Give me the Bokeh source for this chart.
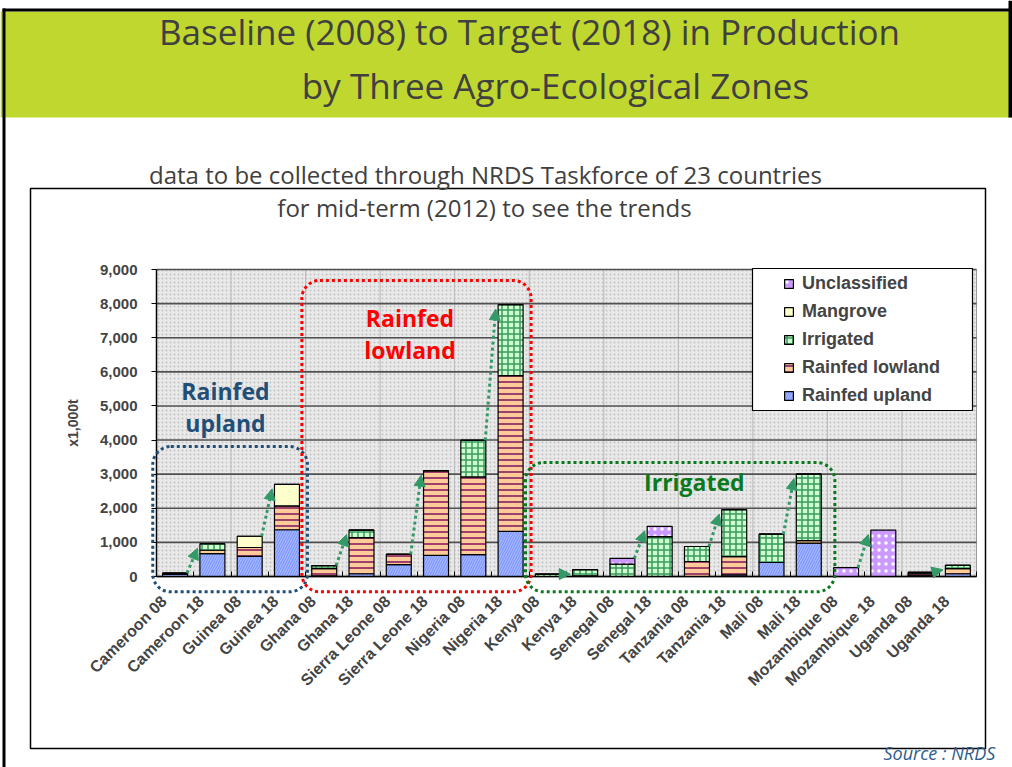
import math
from bokeh.plotting import figure
from bokeh.models import (ColumnDataSource, FixedTicker, Legend, LegendItem, Label,
                          BoxAnnotation, Arrow, NormalHead, NumeralTickFormatter, Range1d)
from bokeh.embed import file_html
from bokeh.resources import INLINE

# ---------------- data (x1,000 t) ----------------
categories = ["Cameroon 08", "Cameroon 18", "Guinea 08", "Guinea 18", "Ghana 08", "Ghana 18",
              "Sierra Leone 08", "Sierra Leone 18", "Nigeria 08", "Nigeria 18",
              "Kenya 08", "Kenya 18", "Senegal 08", "Senegal 18", "Tanzania 08", "Tanzania 18",
              "Mali 08", "Mali 18", "Mozambique 08", "Mozambique 18", "Uganda 08", "Uganda 18"]
rainfed_upland = [60, 670, 590, 1370, 20, 80, 350, 620, 640, 1320,
                  0, 20, 0, 0, 0, 50, 410, 980, 0, 0, 40, 80]
rainfed_lowland = [20, 100, 260, 700, 210, 1060, 300, 2480, 2280, 4570,
                   0, 0, 0, 0, 440, 530, 0, 70, 0, 0, 60, 150]
irrigated = [20, 190, 0, 0, 90, 220, 0, 0, 1070, 2080,
             70, 180, 360, 1170, 440, 1380, 830, 1950, 0, 0, 20, 100]
mangrove = [0, 0, 330, 630, 0, 0, 0, 0, 0, 0,
            0, 0, 0, 0, 0, 0, 0, 0, 0, 0, 0, 0]
unclassified = [0, 0, 0, 0, 0, 0, 0, 0, 0, 0,
                0, 0, 170, 300, 0, 0, 0, 0, 260, 1360, 0, 0]
series_names = ["Rainfed upland", "Rainfed lowland", "Irrigated", "Mangrove", "Unclassified"]
y_ticks = [0, 1000, 2000, 3000, 4000, 5000, 6000, 7000, 8000, 9000]

# zone groups: (first index, last index + 1), label lines, colour
zones = [((0, 4), ["Rainfed", "upland"], "#1f4e79"),
         ((4, 10), ["Rainfed", "lowland"], "#ff0000"),
         ((10, 18), ["Irrigated"], "#0b7a1e")]

n = len(categories)
ymax = y_ticks[-1]
xs = [i + 0.5 for i in range(n)]
keys = ["upland", "lowland", "irrigated", "mangrove", "unclassified"]
src = ColumnDataSource(dict(x=xs, upland=rainfed_upland, lowland=rainfed_lowland,
                            irrigated=irrigated, mangrove=mangrove, unclassified=unclassified))
totals = [a + b + c + d + e for a, b, c, d, e in
          zip(rainfed_upland, rainfed_lowland, irrigated, mangrove, unclassified)]

# ---------------- layout: the whole slide is one frame ----------------
W, H = 1012, 767
PL, PR, PT, PB = 156, 976, 269, 576          # plotting-area pixel box
px_x = (PR - PL) / n                          # pixels per category
px_y = (PB - PT) / ymax                       # pixels per unit
x_range = Range1d(-PL / px_x, (W - PL) / px_x)
y_range = Range1d(-(H - PB) / px_y, PB / px_y)

p = figure(width=W, height=H, x_range=x_range, y_range=y_range,
           output_backend="svg", toolbar_location=None,
           min_border=0, min_border_left=0, min_border_right=0,
           min_border_top=0, min_border_bottom=0,
           background_fill_color="white", border_fill_color="white",
           outline_line_color=None)
p.title.visible = False
p.grid.visible = False

def scr(**kw):
    d = {}
    for k, v in kw.items():
        d[k] = v
        d[k + "_units"] = "screen"
    return d

# slide decorations (screen units: x from left, y from bottom)
p.add_layout(BoxAnnotation(**scr(left=0, right=W, top=H - 11, bottom=H - 117),
                           fill_color="#c0d730", fill_alpha=1, line_color=None))
p.add_layout(BoxAnnotation(**scr(left=2, right=W, top=H - 8, bottom=H - 11),
                           fill_color="black", fill_alpha=1, line_color=None))
p.add_layout(BoxAnnotation(**scr(left=2, right=5, top=H - 8, bottom=0),
                           fill_color="black", fill_alpha=1, line_color=None))
p.add_layout(BoxAnnotation(**scr(left=W - 4, right=W, top=H, bottom=H - 117),
                           fill_color="black", fill_alpha=1, line_color=None))
p.add_layout(BoxAnnotation(**scr(left=30, right=985, top=H - 188, bottom=H - 748),
                           fill_alpha=0, line_color="black", line_alpha=1, line_width=1.5))

for txt, x, y, size in [("Baseline (2008) to Target (2018) in Production", 529, H - 31, "35px"),
                        ("by Three Agro-Ecological Zones", 555, H - 85, "35px"),
                        ("data to be collected through NRDS Taskforce of 23 countries", 485, H - 174, "24px"),
                        ("for mid-term (2012) to see the trends", 484, H - 207, "24px")]:
    p.add_layout(Label(x=x, y=y, x_units="screen", y_units="screen", text=txt,
                       text_font="Open Sans", text_font_size=size, text_color="#404040",
                       text_align="center", text_baseline="middle"))

p.add_layout(Label(x=883, y=H - 752, x_units="screen", y_units="screen", text="Source : NRDS",
                   text_font="Open Sans", text_font_style="italic", text_font_size="18px",
                   text_color="#2e5c8a", text_align="left", text_baseline="alphabetic"))

# plotting area background + grid lines (data units)
p.add_layout(BoxAnnotation(left=0, right=n, bottom=0, top=ymax, level="underlay",
                           fill_color="#e9e9e9", fill_alpha=1,
                           hatch_pattern=".", hatch_color="#c4c4c4", hatch_scale=4,
                           hatch_weight=1,
                           line_color="#9a9a9a", line_alpha=1, line_width=1))
even_bounds = list(range(2, n, 2))
p.segment(x0=even_bounds, x1=even_bounds, y0=[0] * len(even_bounds), y1=[ymax] * len(even_bounds),
          line_color="#b8b8b8", line_width=1)
p.segment(x0=[0] * len(y_ticks), x1=[n] * len(y_ticks), y0=y_ticks, y1=y_ticks,
          line_color="#505050", line_width=1.6)

# ---------------- bars ----------------
renderers = p.vbar_stack(keys, x="x", width=0.67, source=src,
                         fill_color=["#a3b6ff", "#ffcc99", "#ccffcc", "#ffffcc", "#cc99ff"],
                         line_color="black", line_width=1.2,
                         hatch_pattern=["/", "-", "+", " ", "."],
                         hatch_color=["#7790ff", "#a0416b", "#3a9a60", "#ffffcc", "white"],
                         hatch_scale=[5, 6, 6, 6, 7],
                         hatch_weight=[1, 2, 1.5, 1, 1.5])

# ---------------- axes (pinned to the plotting area) ----------------
yax = p.yaxis[0]
yax.fixed_location = 0
yax.bounds = (0, ymax)
yax.ticker = FixedTicker(ticks=y_ticks)
yax.formatter = NumeralTickFormatter(format="0,0")
yax.axis_label = "x1,000t"
yax.axis_label_text_font = "Liberation Sans"
yax.axis_label_text_font_style = "bold"
yax.axis_label_text_font_size = "14px"
yax.axis_label_standoff = 16
yax.major_label_text_font = "Liberation Sans"
yax.major_label_text_font_style = "bold"
yax.major_label_text_font_size = "15px"
yax.major_label_standoff = 14
yax.major_tick_out = 5
yax.major_tick_in = 0
yax.minor_tick_line_color = None
yax.axis_line_width = 1.5

# category labels sit slightly left of the bar centre, as in the source chart
label_ticks = [round(x - 0.3, 3) for x in xs]
xax = p.xaxis[0]
xax.fixed_location = 0
xax.bounds = (0, n)
xax.ticker = FixedTicker(ticks=label_ticks, minor_ticks=list(range(0, n + 1)))
xax.major_label_overrides = {t: c for t, c in zip(label_ticks, categories)}
xax.major_label_orientation = math.pi / 4
xax.major_label_text_font = "Liberation Sans"
xax.major_label_text_font_style = "bold"
xax.major_label_text_font_size = "16px"
xax.major_label_standoff = 16
xax.major_tick_line_color = None
xax.minor_tick_in = 5
xax.minor_tick_out = 0
xax.minor_tick_line_color = "black"
xax.axis_line_width = 1.5

# ---------------- zone boxes and labels ----------------
zone_box_tops = [3810, 8680, 3340]
zone_label_pos = [(1.85, 5450), (6.8, 7570), (14.43, 2760)]
for ((a, b), lines, col), top, (lx, ly) in zip(zones, zone_box_tops, zone_label_pos):
    p.add_layout(BoxAnnotation(left=a - 0.1, right=(b + 0.05) if b < 18 else 18.2,
                               top=top, bottom=-450,
                               fill_alpha=0, line_color=col, line_alpha=1, line_width=3,
                               line_dash="3 3", border_radius=18))
    for k, ln in enumerate(lines):
        p.add_layout(Label(x=lx, y=ly - k * 940, text=ln, text_font="Open Sans",
                           text_font_style="bold", text_font_size="23px", text_color=col,
                           text_align="center", text_baseline="middle"))

# ---------------- arrows 2008 -> 2018 ----------------
arrow_col = "#339966"
for i in range(0, n, 2):
    p.add_layout(Arrow(x_start=i + 0.82, y_start=totals[i],
                       x_end=i + 1.1, y_end=max(totals[i + 1] - 130, 40),
                       line_color=arrow_col, line_width=3, line_dash="3 3",
                       end=NormalHead(size=11, fill_color=arrow_col, line_color=arrow_col)))

# ---------------- legend ----------------
p.add_layout(BoxAnnotation(**scr(left=752, right=972, top=H - 268, bottom=H - 410),
                           fill_color="white", fill_alpha=1, line_color="black",
                           line_alpha=1, line_width=1.2))
items = [LegendItem(label=name, renderers=[r]) for name, r in zip(series_names, renderers)][::-1]
legend = Legend(items=items, location=(783, 361), padding=0, margin=0, spacing=7,
                glyph_width=11, glyph_height=11, label_height=21, label_standoff=8,
                label_text_font="Liberation Sans", label_text_font_style="bold",
                label_text_font_size="18px", background_fill_alpha=0, border_line_color=None)
p.add_layout(legend)

open("out.html", "w").write(file_html(p, INLINE))
